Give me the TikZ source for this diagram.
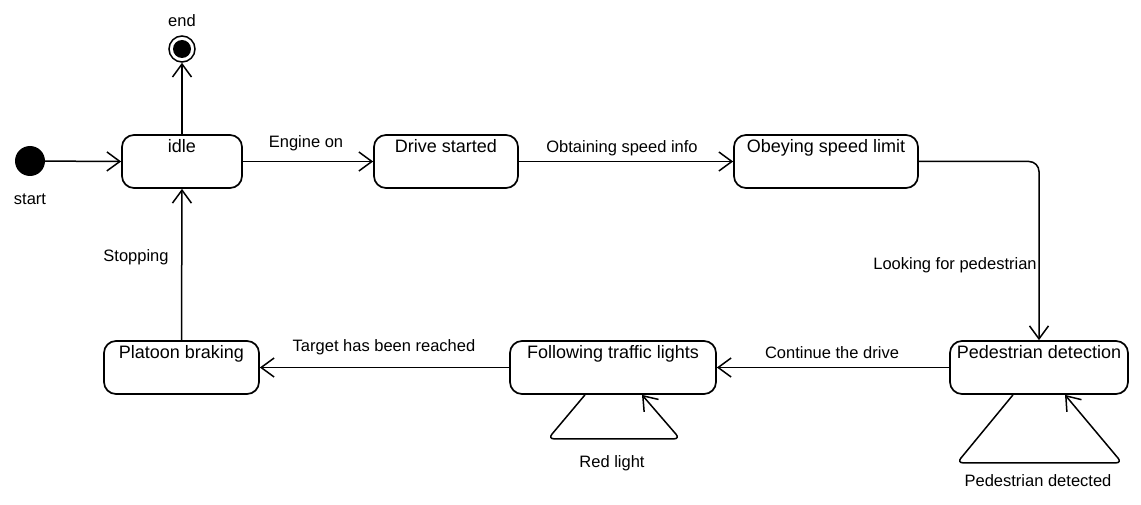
\documentclass[tikz,border=0pt]{standalone}
\usepackage{fontspec}
\setmainfont{Liberation Sans}
\usetikzlibrary{arrows.meta}
\begin{document}
\begin{tikzpicture}[x=1pt,y=-1pt,
  >={Straight Barb[length=13pt,width=19pt]},
  state/.style={draw,line width=1.7pt,rounded corners=12pt,minimum height=53pt,inner sep=0pt},
  statetext/.style={font=\fontsize{18}{21}\selectfont,inner sep=5pt,anchor=north},
  lbl/.style={font=\fontsize{16.5}{19}\selectfont,inner sep=0pt},
  edge/.style={line width=1.5pt,->}]
\useasboundingbox[fill=white] (0,0) rectangle (1141,505);
% initial and final
\node[circle,fill=black,minimum size=30pt,inner sep=0pt] (start) at (30,161) {};
\node[lbl] (startlbl) at (30,199) {start};
\node[circle,draw,line width=1.5pt,minimum size=26pt,inner sep=0pt] (end) at (182,49) {};
\fill (end.center) circle (9);
\node[lbl] (endlbl) at (182,21) {end};
% states
\node[state,minimum width=120pt] (idle) at (182,161.5) {};
\node[statetext] at (idle.north) {idle};
\node[state,minimum width=144pt] (drive) at (446,161.5) {};
\node[statetext] at (drive.north) {Drive started};
\node[state,minimum width=184pt] (obey) at (826,161.5) {};
\node[statetext] at (obey.north) {Obeying speed limit};
\node[state,minimum width=178pt] (ped) at (1039,367.5) {};
\node[statetext] at (ped.north) {Pedestrian detection};
\node[state,minimum width=206pt] (follow) at (613,367.5) {};
\node[statetext] at (follow.north) {Following traffic lights};
\node[state,minimum width=155pt] (platoon) at (181.5,367.5) {};
\node[statetext] at (platoon.north) {Platoon braking};
% transitions
\draw[edge] (start) -- (idle.west);
\draw[edge] (idle.north) -- (end.south);
\draw[edge] (idle.east) -- (drive.west);
\node[lbl] (l1) at (306,143) {Engine on};
\draw[edge] (drive.east) -- (obey.west);
\node[lbl] (l2) at (622,148) {Obtaining speed info};
\draw[edge,rounded corners=10pt] (obey.east) -| (ped.north);
\node[lbl] (l3) at (955,265) {Looking for pedestrian};
\draw[edge] (ped.west) -- (follow.east);
\node[lbl] (l4) at (832,353) {Continue the drive};
\draw[edge] (follow.west) -- (platoon.east);
\node[lbl] (l5) at (384,347) {Target has been reached};
\draw[edge] (platoon.north) -- (idle.south);
\node[lbl] (l6) at (136,257) {Stopping};
% self loops
\draw[edge,rounded corners=6pt] ([xshift=-28pt]follow.south) -- ++(-37,44) -- ++(132,0) -- ([xshift=29pt]follow.south);
\node[lbl] (l7) at (612,463) {Red light};
\draw[edge,rounded corners=6pt] ([xshift=-26pt]ped.south) -- ++(-56,68) -- ++(165,0) -- ([xshift=26pt]ped.south);
\node[lbl] (l8) at (1038,481) {Pedestrian detected};
\end{tikzpicture}
\end{document}
